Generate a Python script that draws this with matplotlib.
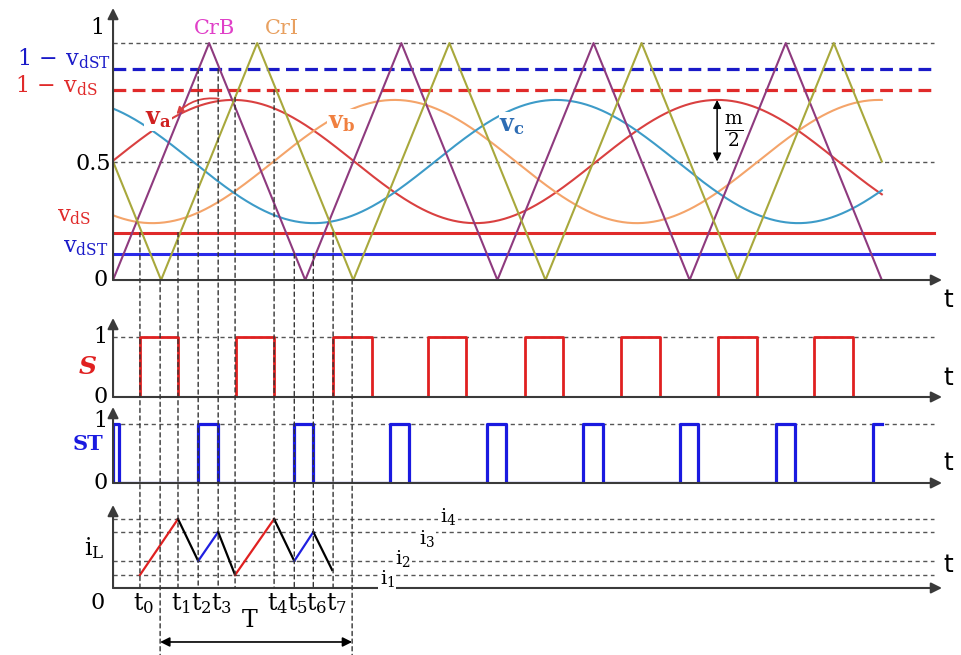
import numpy as np
import matplotlib.pyplot as plt
from matplotlib.patches import ConnectionPatch

plt.rcParams['font.family'] = 'DejaVu Serif'
plt.rcParams['mathtext.fontset'] = 'dejavuserif'

# --- datos (tiempo en periodos de portadora) ---
crb_t = [0, 0.5, 1, 1.5, 2, 2.5, 3, 3.5, 4]
crb_v = [0, 1, 0, 1, 0, 1, 0, 1, 0]
cri_t = [0, 0.25, 0.75, 1.25, 1.75, 2.25, 2.75, 3.25, 3.75, 4]
cri_v = [0.5, 0, 1, 0, 1, 0, 1, 0, 1, 0.5]

v_ds = 0.2
v_dst = 0.11
m_half = 0.26
sine_period = 2.52
peak_a, peak_b, peak_c = 0.625, 1.465, 2.305

s_on = [0.14, 0.64, 1.145, 1.64, 2.145, 2.645, 3.148, 3.647]
s_off = [0.338, 0.838, 1.348, 1.837, 2.341, 2.846, 3.351, 3.85]
st_on = [0.0, 0.443, 0.943, 1.441, 1.946, 2.445, 2.95, 3.45, 3.954]
st_off = [0.032, 0.547, 1.042, 1.54, 2.045, 2.55, 3.044, 3.55, 4.0]

il_t = [0.14, 0.338, 0.443, 0.547, 0.635, 0.838, 0.943, 1.042, 1.14]
il_v = [1.3, 6.9, 2.7, 5.6, 1.3, 6.9, 2.7, 5.6, 1.8]
il_col = ['#e02020', 'black', '#2020e0', 'black', '#e02020', 'black', '#2020e0', 'black']
i_levels = [1.3, 2.7, 5.6, 6.9]
i_names = ['i_1', 'i_2', 'i_3', 'i_4']

marks = [0.14, 0.245, 0.338, 0.443, 0.547, 0.635, 0.838, 0.943, 1.042, 1.145, 1.244]
mark_top = [v_ds, 0, v_ds, 1 - v_dst, 1 - v_dst, 0.77, 1 - v_ds, v_dst, v_dst, v_ds, 0]
t_names = ['t_0', 't_1', 't_2', 't_3', 't_4', 't_5', 't_6', 't_7']
t_name_pos = [0.14, 0.338, 0.443, 0.547, 0.838, 0.943, 1.042, 1.145]

t_end = 4.0
x_max = 4.313
h_end = 4.27

fig = plt.figure(figsize=(9.62, 6.55), dpi=100)
ax = fig.add_axes([0.1175, 0.5725, 0.8617, 0.4153])
ax_s = fig.add_axes([0.1175, 0.3939, 0.8617, 0.1206])
ax_st = fig.add_axes([0.1175, 0.2626, 0.8617, 0.116])
ax_il = fig.add_axes([0.1175, 0.1023, 0.8617, 0.1267])

tops = {ax: 1.148, ax_s: 1.317, ax_st: 1.288, ax_il: 8.3}
axis_col = '#3a3a3a'
for a, top in tops.items():
    a.set_xlim(0, x_max)
    a.set_ylim(0, top)
    a.axis('off')
    arr = dict(arrowstyle='-|>', color=axis_col, lw=1.5, mutation_scale=16, shrinkA=0, shrinkB=0)
    a.annotate('', xy=(x_max, 0), xytext=(0, 0), arrowprops=arr, annotation_clip=False)
    a.annotate('', xy=(0, top), xytext=(0, 0), arrowprops=arr, annotation_clip=False)

grey = dict(color='#555555', lw=1, linestyle=(0, (3, 2.5)))

# ---- panel superior ----
ax.plot([0, h_end], [1, 1], **grey)
ax.plot([0, h_end], [0.5, 0.5], **grey)
ax.plot([0, h_end], [1 - v_dst] * 2, color='#1a1ac8', lw=2.3, linestyle=(0, (4, 2)))
ax.plot([0, h_end], [1 - v_ds] * 2, color='#e02a2a', lw=2.3, linestyle=(0, (4, 2)))
ax.plot([0, h_end], [v_ds] * 2, color='#e02a2a', lw=2.2)
ax.plot([0, h_end], [v_dst] * 2, color='#2a2ae8', lw=2.2)

tt = np.linspace(0, t_end, 600)
for pk, c in [(peak_a, '#d94040'), (peak_b, '#f4a46a'), (peak_c, '#3d9bc8')]:
    ax.plot(tt, 0.5 + m_half * np.cos(2 * np.pi * (tt - pk) / sine_period), color=c, lw=1.5)

ax.plot(crb_t, crb_v, color='#8e3a7e', lw=1.5)
ax.plot(cri_t, cri_v, color='#a8a83c', lw=1.5)

lab = dict(fontsize=17, fontweight='bold', ha='center', va='center',
           bbox=dict(facecolor='white', edgecolor='none', pad=0.5))
ax.text(0.234, 0.684, r'$\mathbf{v_a}$', color='#d02020', **lab)
ax.text(1.19, 0.667, r'$\mathbf{v_b}$', color='#f08040', **lab)
ax.text(2.076, 0.654, r'$\mathbf{v_c}$', color='#2e6db4', **lab)
ax.annotate('', xy=(0.33, 0.7), xytext=(0.55, 0.765),
            arrowprops=dict(arrowstyle='-|>', color='#d94040', lw=1.3,
                            connectionstyle='arc3,rad=0.25', shrinkA=0, shrinkB=0))

ax.text(0.53, 1.063, 'CrB', color='#e040c8', fontsize=15, ha='center', va='center')
ax.text(0.88, 1.063, 'CrI', color='#e8a060', fontsize=15, ha='center', va='center')

ax.annotate('', xy=(3.143, 0.5 + m_half), xytext=(3.143, 0.5),
            arrowprops=dict(arrowstyle='<|-|>', color='black', lw=1.1, mutation_scale=12,
                            shrinkA=0, shrinkB=0))
ax.text(3.23, 0.63, r'$\frac{\mathrm{m}}{2}$', fontsize=19, ha='center', va='center')

yl = dict(fontsize=16, ha='right', va='center', clip_on=False)
ax.text(-0.045, 1.063, '1', **yl)
ax.text(-0.01, 0.49, '0.5', **yl)
ax.text(-0.03, 0.0, '0', **yl)
ax.text(-0.01, 0.935, r'$1\,-\,\mathrm{v}_{\mathrm{dST}}$', color='#1a1ac8', **yl)
ax.text(-0.08, 0.82, r'$1\,-\,\mathrm{v}_{\mathrm{dS}}$', color='#e02a2a', **yl)
ax.text(-0.115, 0.27, r'$\mathrm{v}_{\mathrm{dS}}$', color='#e02a2a', **yl)
ax.text(-0.025, 0.14, r'$\mathrm{v}_{\mathrm{dST}}$', color='#1a1ac8', **yl)
ax.text(4.32, -0.085, 't', fontsize=18, family='DejaVu Sans', ha='left', va='center')


def pulses(on, off, end):
    xs, ys = [0], [0]
    for a, b in zip(on, off):
        xs += [a, a]
        ys += [0, 1]
        if b < end:
            xs += [b, b]
            ys += [1, 0]
        else:
            xs.append(end)
            ys.append(1)
    if ys[-1] == 0:
        xs.append(end)
        ys.append(0)
    return xs, ys


# ---- S ----
ax_s.plot([0, h_end], [1, 1], **grey)
xs, ys = pulses(s_on, s_off, t_end)
ax_s.plot(xs, ys, color='#e02020', lw=2)
ax_s.text(-0.03, 1, '1', **yl)
ax_s.text(-0.03, 0, '0', **yl)
ax_s.text(-0.13, 0.5, 'S', color='#e02020', fontsize=18, fontweight='bold', fontstyle='italic',
          ha='center', va='center')
ax_s.text(4.32, 0.32, 't', fontsize=18, family='DejaVu Sans', ha='left', va='center')

# ---- ST ----
ax_st.plot([0, h_end], [1, 1], **grey)
xs, ys = pulses(st_on, st_off, t_end)
ax_st.plot(xs, ys, color='#1a1ae0', lw=2.3)
ax_st.text(-0.03, 1.05, '1', **yl)
ax_st.text(-0.03, 0, '0', **yl)
ax_st.text(-0.13, 0.66, 'ST', color='#1a1ae0', fontsize=15, fontweight='bold',
           ha='center', va='center')
ax_st.text(4.32, 0.34, 't', fontsize=18, family='DejaVu Sans', ha='left', va='center')

# ---- iL ----
for lv in i_levels:
    ax_il.plot([0, h_end], [lv, lv], **grey)
for k in range(len(il_col)):
    ax_il.plot(il_t[k:k + 2], il_v[k:k + 2], color=il_col[k], lw=1.6)
il_lab_pos = [(1.426, 0.9), (1.509, 2.9), (1.634, 5.0), (1.743, 7.2)]
for (px, py), nm in zip(il_lab_pos, i_names):
    ax_il.text(px, py, '$\\mathrm{' + nm[0] + '}_' + nm[2] + '$', fontsize=14, ha='center', va='center',
               bbox=dict(facecolor='white', edgecolor='none', pad=1))
ax_il.text(-0.1, 4.0, r'$\mathrm{i}_\mathrm{L}$', fontsize=17, ha='center', va='center')
ax_il.text(-0.08, -1.5, '0', fontsize=16, ha='center', va='center')
ax_il.text(4.32, 2.3, 't', fontsize=18, family='DejaVu Sans', ha='left', va='center')
for tn, px in zip(t_names, t_name_pos):
    ax_il.text(px + 0.018, -1.6, '$\\mathrm{t}_' + tn[2] + '$', fontsize=17, ha='center', va='center')
ax_il.annotate('', xy=(1.244, -5.4), xytext=(0.245, -5.4), annotation_clip=False,
               arrowprops=dict(arrowstyle='<|-|>', color='black', lw=1.2, mutation_scale=14,
                               shrinkA=0, shrinkB=0))
ax_il.text(0.713, -3.3, 'T', fontsize=17, ha='center', va='center')

# lineas verticales de los instantes
for tm, lv in zip(marks, mark_top):
    bottom = -6.8 if lv == 0 else 0
    cp = ConnectionPatch(xyA=(tm, lv), coordsA=ax.transData, xyB=(tm, bottom), coordsB=ax_il.transData,
                         color='#333333', lw=1, linestyle=(0, (3, 2.5)))
    fig.add_artist(cp)

fig.savefig('out.png', dpi=100)
